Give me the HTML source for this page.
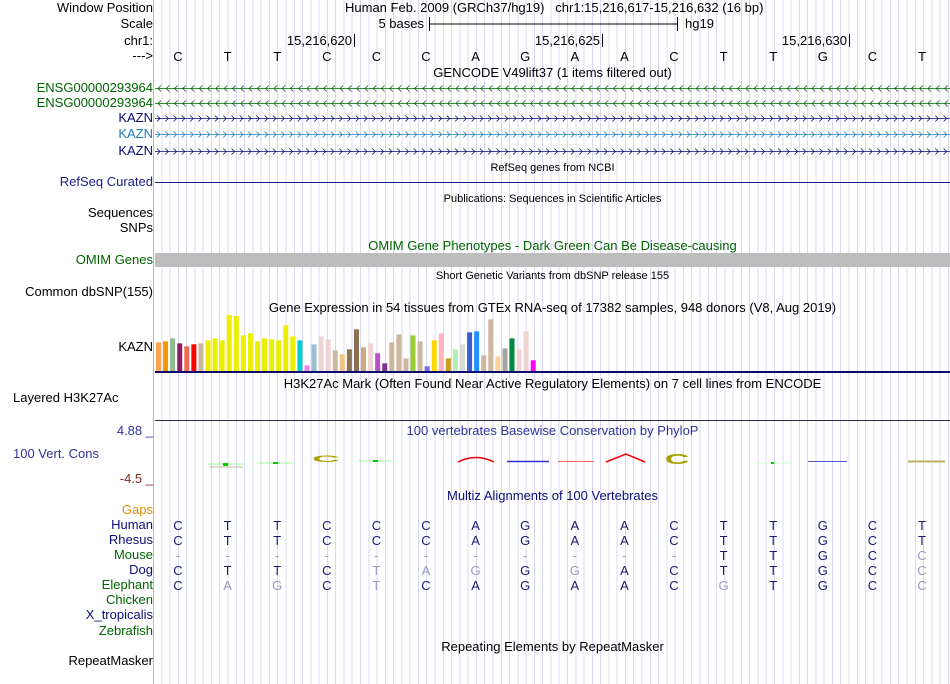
<!DOCTYPE html>
<html><head><meta charset="utf-8">
<style>
body{margin:0;width:950px;height:684px;overflow:hidden;background:#fff;font-family:"Liberation Sans",sans-serif;font-size:13px;position:relative}
.grid{position:absolute;left:155px;top:0;width:795px;height:684px;background:repeating-linear-gradient(to right,transparent 0,transparent 6.28px,#d8d8f4 6.28px,#d8d8f4 7.28px,transparent 7.28px,transparent 8.28px)}
.pink{position:absolute;left:153px;top:0;width:1px;height:684px;background:#f4a0a0}
.l{position:absolute;right:797px;white-space:nowrap;line-height:14px}
.ll{position:absolute;left:13px;white-space:nowrap;line-height:14px}
.t{position:absolute;white-space:nowrap;line-height:14px}
.c{position:absolute;left:155px;width:795px;text-align:center;white-space:nowrap;line-height:14px}
.s{font-size:11px}
svg{position:absolute;left:0;top:0}
</style></head><body>
<div class="grid"></div>
<div class="pink"></div>

<div class="l" style="top:1px">Window Position</div>
<div class="l" style="top:17px">Scale</div>
<div class="l" style="top:34px">chr1:</div>
<div class="l" style="top:49px">---&gt;</div>
<div class="l" style="top:81px;color:#006400">ENSG00000293964</div>
<div class="l" style="top:96px;color:#006400">ENSG00000293964</div>
<div class="l" style="top:111px;color:#0c0c78">KAZN</div>
<div class="l" style="top:127px;color:#1a7ec0">KAZN</div>
<div class="l" style="top:144px;color:#0c0c78">KAZN</div>
<div class="l" style="top:175px;color:#1c1c8a">RefSeq Curated</div>
<div class="l" style="top:206px">Sequences</div>
<div class="l" style="top:221px">SNPs</div>
<div class="l" style="top:253px;color:#006400">OMIM Genes</div>
<div class="l" style="top:285px">Common dbSNP(155)</div>
<div class="l" style="top:340px">KAZN</div>
<div class="ll" style="top:391px">Layered H3K27Ac</div>
<div class="l" style="top:424px;color:#333399">4.88 _</div>
<div class="ll" style="top:447px;color:#333399">100 Vert. Cons</div>
<div class="l" style="top:472px;color:#8b2a2a">-4.5 _</div>
<div class="l" style="top:503px;color:#e08a00">Gaps</div>
<div class="l" style="top:518px;color:#0c0c78">Human</div>
<div class="l" style="top:533px;color:#0c0c78">Rhesus</div>
<div class="l" style="top:548px;color:#006400">Mouse</div>
<div class="l" style="top:563px;color:#0c0c78">Dog</div>
<div class="l" style="top:578px;color:#006400">Elephant</div>
<div class="l" style="top:593px;color:#006400">Chicken</div>
<div class="l" style="top:608px;color:#0c0c78">X_tropicalis</div>
<div class="l" style="top:624px;color:#006400">Zebrafish</div>
<div class="l" style="top:654px">RepeatMasker</div>

<div class="t" style="left:345px;top:1px">Human Feb. 2009 (GRCh37/hg19)&nbsp;&nbsp; chr1:15,216,617-15,216,632 (16 bp)</div>
<div class="t" style="right:526px;top:17px">5 bases</div>
<div class="t" style="left:685px;top:17px">hg19</div>
<div class="t" style="right:598px;top:34px">15,216,620</div>
<div class="t" style="right:350px;top:34px">15,216,625</div>
<div class="t" style="right:103px;top:34px">15,216,630</div>
<div class="c" style="top:66px">GENCODE V49lift37 (1 items filtered out)</div>
<div class="c s" style="top:161px">RefSeq genes from NCBI</div>
<div class="c s" style="top:192px">Publications: Sequences in Scientific Articles</div>
<div class="c" style="top:239px;color:#006400">OMIM Gene Phenotypes - Dark Green Can Be Disease-causing</div>
<div class="c s" style="top:269px">Short Genetic Variants from dbSNP release 155</div>
<div class="c" style="top:301px">Gene Expression in 54 tissues from GTEx RNA-seq of 17382 samples, 948 donors (V8, Aug 2019)</div>
<div class="c" style="top:377px">H3K27Ac Mark (Often Found Near Active Regulatory Elements) on 7 cell lines from ENCODE</div>
<div class="c" style="top:424px;color:#333399">100 vertebrates Basewise Conservation by PhyloP</div>
<div class="c" style="top:489px;color:#0c0c78">Multiz Alignments of 100 Vertebrates</div>
<div class="c" style="top:640px">Repeating Elements by RepeatMasker</div>

<svg id="main" width="950" height="684">
 <line x1="429.5" y1="17" x2="429.5" y2="31" stroke="#000"/>
 <line x1="429" y1="24" x2="677" y2="24" stroke="#000"/>
 <line x1="677.5" y1="17" x2="677.5" y2="31" stroke="#000"/>
 <line x1="354.5" y1="34" x2="354.5" y2="47" stroke="#000"/>
 <line x1="602.5" y1="34" x2="602.5" y2="47" stroke="#000"/>
 <line x1="849.5" y1="34" x2="849.5" y2="47" stroke="#000"/>
 <line x1="155" y1="182.5" x2="950" y2="182.5" stroke="#1c1c8a"/>
 <rect x="155" y="253" width="795" height="14" fill="#bdbdbd"/>
 <line x1="155" y1="372" x2="950" y2="372" stroke="#0c0c6e" stroke-width="2"/>
 <line x1="155" y1="420.5" x2="950" y2="420.5" stroke="#3a2a4a"/>
 <g id="cons">
  <line x1="207" y1="464" x2="244" y2="464" stroke="#9f9"/>
  <rect x="223" y="463" width="5" height="3" fill="#0c0"/>
  <line x1="209" y1="467" x2="243" y2="467" stroke="#bb9"/>
  <line x1="258" y1="463" x2="294" y2="463" stroke="#9f9"/>
  <rect x="273" y="462" width="5" height="2" fill="#0c0"/>
  <text x="326" y="462" font-size="16" fill="#a8a000" text-anchor="middle" transform="translate(326 462) scale(2.4 0.6) translate(-326 -462)" font-family="Liberation Sans" font-weight="bold">C</text>
  <line x1="358" y1="461" x2="391" y2="461" stroke="#9f9"/>
  <rect x="373" y="460" width="5" height="2" fill="#0c0"/>
  <path d="M458 462 Q476 453 494 462" stroke="#e00" stroke-width="1.5" fill="none"/>
  <line x1="507" y1="461.5" x2="549" y2="461.5" stroke="#33c" stroke-width="1.5"/>
  <line x1="558" y1="461.5" x2="594" y2="461.5" stroke="#e66"/>
  <path d="M606 462 L626 454 L645 462" stroke="#e00" stroke-width="1.5" fill="none"/>
  <text x="677" y="464" font-size="20" fill="#a8a000" text-anchor="middle" transform="translate(677 464) scale(1.7 0.75) translate(-677 -464)" font-family="Liberation Sans" font-weight="bold">C</text>
  <line x1="755" y1="463" x2="791" y2="463" stroke="#cfc"/>
  <rect x="771" y="462" width="3" height="2" fill="#0c0"/>
  <line x1="808" y1="461.5" x2="847" y2="461.5" stroke="#55c"/>
  <line x1="908" y1="461.5" x2="945" y2="461.5" stroke="#b8b060" stroke-width="2"/>
 </g>
 <g id="genes"></g>
 <g id="bars"></g>
 <g id="seq"></g>
</svg>

<script>
// GTEx expression per tissue (relative units)
const tissueIdx = Array.from({length:54},(_,i)=>i+1);
const expression = [86,89,98,83,74,80,83,92,98,92,168,165,107,113,89,98,95,92,137,104,92,17,80,104,95,62,50,65,125,71,83,53,23,86,110,38,107,89,14,92,113,38,65,80,116,119,47,155,44,68,98,65,119,32];
const tissueColors = ["#ffa54f","#ee9a00","#8fbc8f","#8b1c62","#ee6a50","#ff0000","#cdb79e","#eeee00","#eeee00","#eeee00","#eeee00","#eeee00","#eeee00","#eeee00","#eeee00","#eeee00","#eeee00","#eeee00","#eeee00","#eeee00","#00cdcd","#ee82ee","#9ac0cd","#eed5d2","#eed5d2","#cdb79e","#f4c283","#8b7355","#8b6f50","#cdaa7d","#eed5d2","#b452cd","#7a378b","#cdb79e","#cdb79e","#cdb79e","#9acd32","#cdb79e","#7b68ee","#ffd700","#ffb6c1","#cd9b1d","#b4eeb4","#d9d9d9","#3a5fcd","#1e90ff","#cdb79e","#cdb79e","#ffd39b","#a6a6a6","#008b45","#eed5d2","#eed5d2","#ff00ff"];
const bases = ["C","T","T","C","C","C","A","G","A","A","C","T","T","G","C","T"];
const rhesus = ["C","T","T","C","C","C","A","G","A","A","C","T","T","G","C","T"];
const mouse = ["-","-","-","-","-","-","-","-","-","-","-","T","T","G","C","c"];
const dog = ["C","T","T","C","t","a","g","G","g","A","C","T","T","G","C","c"];
const elephant = ["C","a","g","C","t","C","A","G","A","A","C","g","T","G","C","c"];

const NS="http://www.w3.org/2000/svg";
const xBar = i => 156 + i*7.07;
const yBase = 371;
const hScale = v => v/3;
const xBase = i => 178 + i*49.6;

const gb = document.getElementById('bars');
expression.forEach((v,i)=>{
  const r=document.createElementNS(NS,'rect');
  r.setAttribute('x',xBar(i)); r.setAttribute('width',5);
  r.setAttribute('y',yBase-hScale(v)); r.setAttribute('height',hScale(v));
  r.setAttribute('fill',tissueColors[i]);
  
  
  gb.appendChild(r);
});

const gs=document.getElementById('seq');
function addText(x,y,t,fill,name){
  const e=document.createElementNS(NS,'text');
  e.setAttribute('x',x); e.setAttribute('y',y);
  e.setAttribute('text-anchor','middle'); e.setAttribute('font-size','13');
  e.setAttribute('font-family','Liberation Sans'); e.setAttribute('fill',fill);
  e.textContent=t;
  
  
  gs.appendChild(e);
}
bases.forEach((b,i)=>addText(xBase(i),61,b,'#000','ref-base'));
const rows=[[bases,530],[rhesus,545],[mouse,560],[dog,575],[elephant,590]];
rows.forEach(([arr,y])=>arr.forEach((b,i)=>{
  const light = b===b.toLowerCase();
  addText(xBase(i),y,b.toUpperCase(),light?'#9a9abf':'#1a1a70','multiz-base');
}));

const gg=document.getElementById('genes');
const geneRows=[[88,'#006400',-1],[103,'#006400',-1],[118,'#0c0c78',1],[134,'#1a7ec0',1],[151,'#0c0c78',1]];
geneRows.forEach(([y,c,dir],k)=>{
  const g=document.createElementNS(NS,'g');
  
  
  let d='M155 '+(y+.5)+' H950 ';
  for(let x=159;x<950;x+=8.28){
    if(dir>0) d+='M'+(x-2)+' '+(y-2.5)+' L'+(x+1)+' '+(y+.5)+' L'+(x-2)+' '+(y+3.5)+' ';
    else d+='M'+(x+2)+' '+(y-2.5)+' L'+(x-1)+' '+(y+.5)+' L'+(x+2)+' '+(y+3.5)+' ';
  }
  const p=document.createElementNS(NS,'path');
  p.setAttribute('d',d); p.setAttribute('stroke',c); p.setAttribute('fill','none'); p.setAttribute('stroke-width','0.8');
  g.appendChild(p); gg.appendChild(g);
});
</script>
</body></html>
